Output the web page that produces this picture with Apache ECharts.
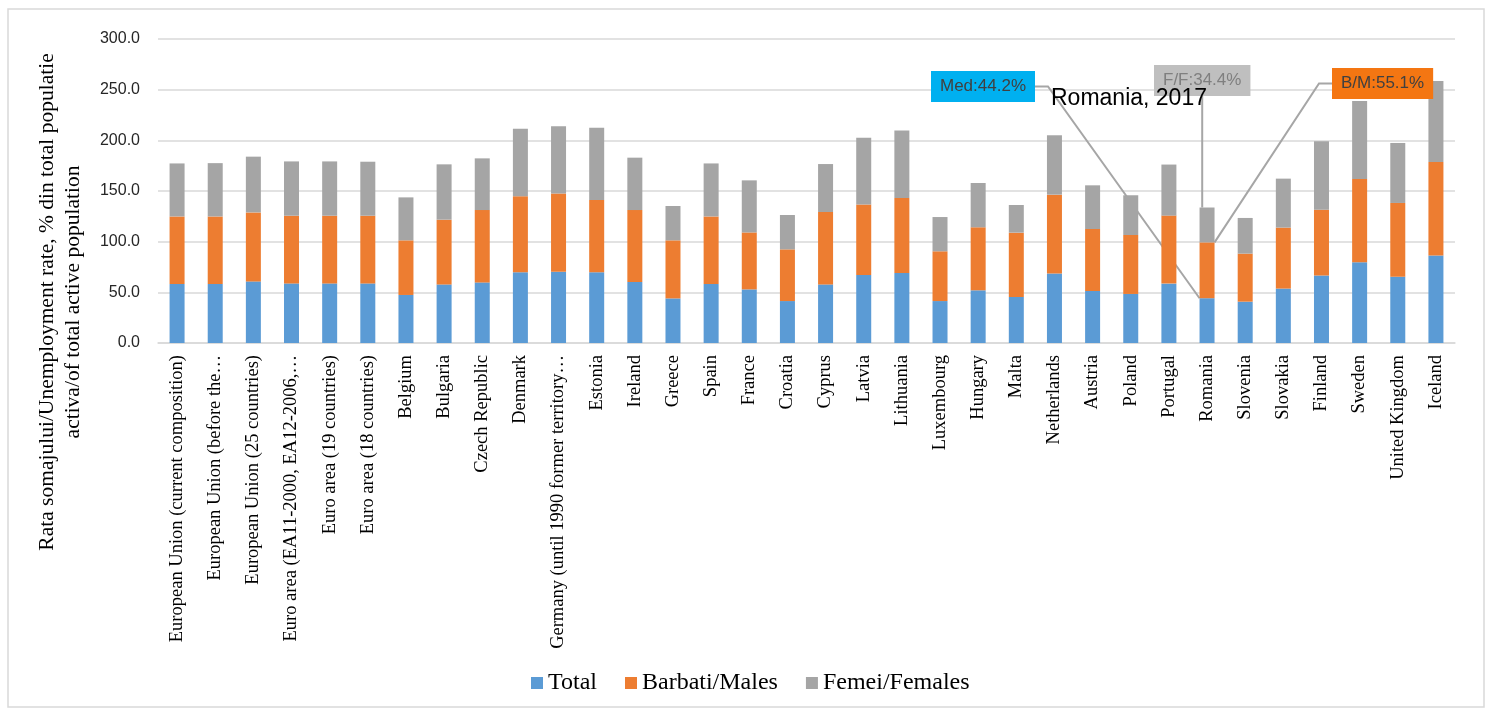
<!DOCTYPE html>
<html>
<head>
<meta charset="utf-8">
<script src="https://cdn.jsdelivr.net/npm/echarts@6/dist/echarts.min.js"></script>
<style>
  html, body { margin: 0; padding: 0; background: #fff; }
  #chart { width: 1487px; height: 712px; }
</style>
</head>
<body>
<div id="chart"></div>
<script>
// Country / aggregate names as printed under the bars
const categories = [
  'European Union (current composition)',
  'European Union (before the\u2026',
  'European Union (25 countries)',
  'Euro area (EA11-2000, EA12-2006,\u2026',
  'Euro area (19 countries)',
  'Euro area (18 countries)',
  'Belgium', 'Bulgaria', 'Czech Republic', 'Denmark',
  'Germany (until 1990 former territory\u2026',
  'Estonia', 'Ireland', 'Greece', 'Spain', 'France', 'Croatia', 'Cyprus',
  'Latvia', 'Lithuania', 'Luxembourg', 'Hungary', 'Malta', 'Netherlands',
  'Austria', 'Poland', 'Portugal', 'Romania', 'Slovenia', 'Slovakia',
  'Finland', 'Sweden', 'United Kingdom', 'Iceland'
];

// Rates (%), stacked per country
const totalValues = [58.2, 58.2, 60.8, 58.8, 58.8, 58.8, 47.4, 57.8, 59.8, 69.7,
  70.4, 69.7, 60.2, 44.0, 58.2, 52.9, 41.4, 57.8, 67.1, 69.1,
  41.4, 52.0, 45.4, 68.5, 51.3, 48.4, 58.6, 44.2, 40.8, 53.7,
  66.5, 79.6, 65.5, 86.3];
const maleValues = [66.7, 66.7, 68.1, 66.8, 66.8, 66.8, 53.9, 63.9, 71.4, 75.0,
  77.2, 71.4, 71.0, 57.3, 66.7, 56.2, 51.0, 71.5, 69.7, 74.0,
  49.1, 62.2, 63.5, 77.9, 61.2, 58.2, 67.1, 55.1, 47.4, 60.2,
  65.1, 82.2, 72.7, 92.3];
const femaleValues = [52.3, 52.6, 55.0, 53.6, 53.6, 53.3, 42.4, 54.6, 51.0, 66.8,
  66.2, 71.4, 51.7, 33.9, 52.3, 51.4, 33.9, 47.3, 65.8, 66.7,
  33.8, 43.7, 27.3, 58.6, 43.1, 39.2, 50.4, 34.4, 35.2, 48.3,
  67.5, 77.0, 59.2, 80.0];

const seriesNames = ['Total', 'Barbati/Males', 'Femei/Females'];
const yTicks = { min: 0, max: 300, step: 50 };

// Romania gets call-out boxes
const highlightName = 'Romania';
const highlightIndex = categories.indexOf(highlightName);
const calloutPrefix = ['Med', 'B/M', 'F/F'];
const calloutBg = ['#00B0F0', '#F47612', '#BFBFBF'];
const calloutText = ['#404040', '#404040', '#7F7F7F'];
const calloutPos = [[931, 71], [1332, 68], [1154, 65]];

const barColors = ['#5B9BD5', '#ED7D31', '#A5A5A5'];
const serif = '"Liberation Serif", "Times New Roman", serif';
const sans = '"Liberation Sans", Arial, sans-serif';

function buildSeries(values, s) {
  const data = values.map((v, i) => {
    if (i !== highlightIndex) return v;
    return {
      value: v,
      label: {
        show: true,
        formatter: calloutPrefix[s] + ':{c}%',
        color: calloutText[s],
        backgroundColor: calloutBg[s],
        padding: [6, 9],
        lineHeight: 19,
        fontFamily: sans,
        fontSize: 17
      },
      labelLine: {
        show: true,
        length2: 13,
        lineStyle: { color: '#A6A6A6', width: 2 }
      }
    };
  });
  return {
    name: seriesNames[s],
    type: 'bar',
    stack: 'all',
    barWidth: 15,
    itemStyle: { color: barColors[s] },
    label: { show: false },
    labelLayout: function (p) {
      if (p.dataIndex !== highlightIndex) return {};
      return { x: calloutPos[s][0], y: calloutPos[s][1], align: 'left', verticalAlign: 'top' };
    },
    emphasis: { disabled: true },
    data: data
  };
}

const chart = echarts.init(document.getElementById('chart'), null, { renderer: 'canvas' });
chart.setOption({
  animation: false,
  backgroundColor: '#ffffff',
  title: {
    text: highlightName + ', 2017',
    left: 1046,
    top: 82,
    textStyle: { fontFamily: sans, fontSize: 23, fontWeight: 'normal', color: '#000' }
  },
  grid: { left: 158, right: 32, top: 39, bottom: 369, containLabel: false },
  legend: {
    data: seriesNames,
    left: 531,
    top: 671,
    padding: 0,
    icon: 'rect',
    itemWidth: 12,
    itemHeight: 12,
    itemGap: 28,
    textStyle: { fontFamily: serif, fontSize: 24, color: '#000' }
  },
  xAxis: {
    type: 'category',
    data: categories,
    axisTick: { show: false },
    axisLine: { lineStyle: { color: '#D9D9D9', width: 1.5 } },
    axisLabel: {
      interval: 0,
      rotate: 90,
      margin: 12,
      fontFamily: serif,
      fontSize: 18.5,
      color: '#000'
    }
  },
  yAxis: {
    type: 'value',
    min: yTicks.min,
    max: yTicks.max,
    interval: yTicks.step,
    axisLine: { show: false },
    axisTick: { show: false },
    splitLine: { lineStyle: { color: '#D9D9D9', width: 1.5 } },
    axisLabel: {
      margin: 18,
      fontFamily: sans,
      fontSize: 16,
      color: '#262626',
      formatter: v => v.toFixed(1)
    }
  },
  graphic: [
    {
      type: 'rect',
      silent: true,
      z: -1,
      shape: { x: 8, y: 9, width: 1476, height: 698 },
      style: { fill: 'none', stroke: '#D9D9D9', lineWidth: 1.5 }
    },
    {
      type: 'text',
      x: 47, y: 302,
      rotation: Math.PI / 2,
      style: {
        text: 'Rata somajului/Unemployment rate, % din total populatie',
        font: '21.5px ' + serif,
        textAlign: 'center',
        textVerticalAlign: 'middle',
        fill: '#000'
      }
    },
    {
      type: 'text',
      x: 73, y: 302,
      rotation: Math.PI / 2,
      style: {
        text: 'activa/of total active population',
        font: '21.5px ' + serif,
        textAlign: 'center',
        textVerticalAlign: 'middle',
        fill: '#000'
      }
    }
  ],
  series: [
    buildSeries(totalValues, 0),
    buildSeries(maleValues, 1),
    buildSeries(femaleValues, 2)
  ]
});
</script>
</body>
</html>
